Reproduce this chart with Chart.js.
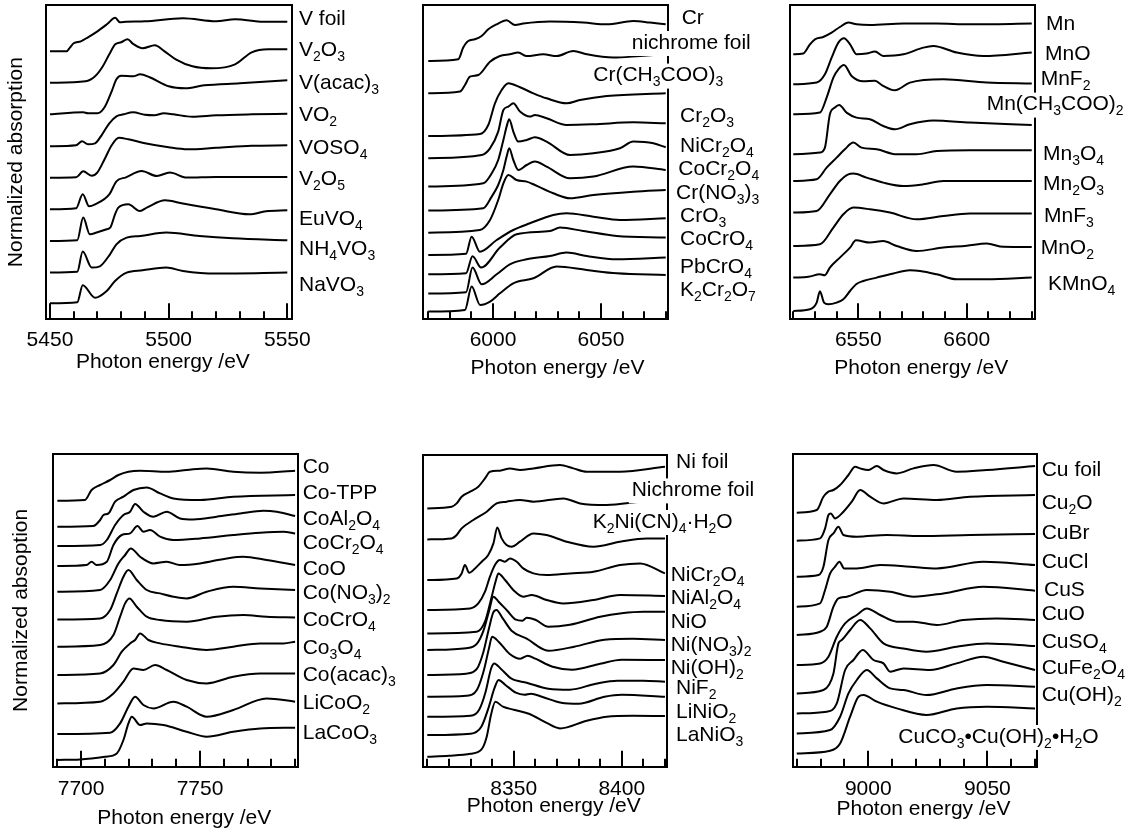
<!DOCTYPE html>
<html><head><meta charset="utf-8">
<script src="https://cdn.jsdelivr.net/npm/chart.js@4.4.1/dist/chart.umd.min.js"></script>
<style>
html,body{margin:0;padding:0;background:#fff;}
#wrap{position:relative;width:1135px;height:836px;overflow:hidden;background:#fff;}
#wrap canvas{position:absolute;left:0;top:0;}
</style></head><body>
<div id="wrap">
<canvas id="pV" width="1135" height="836"></canvas>
<canvas id="pCr" width="1135" height="836"></canvas>
<canvas id="pMn" width="1135" height="836"></canvas>
<canvas id="pCo" width="1135" height="836"></canvas>
<canvas id="pNi" width="1135" height="836"></canvas>
<canvas id="pCu" width="1135" height="836"></canvas>
</div>
<script>
// ---------------- DATA (energy /eV, stacked normalized absorption incl. offset) ----------------
// Panel 1 : V K-edge
const vNames = ['V foil','V_2O_3','V(acac)_3','VO_2','VOSO_4','V_2O_5','EuVO_4','NH_4VO_3','NaVO_3'];
const vSeries = [
 [[5450,268],[5457,268],[5458.5,272],[5460,276],[5463,278],[5466,282],[5470,288],[5474,295],[5477.5,301.5],[5479.5,297],[5482,297.5],[5490,298],[5506,301],[5520,298],[5528,300],[5540,297.5],[5550,297.5]],
 [[5450,236.5],[5465,238],[5469,243],[5472,252],[5475,265],[5477.5,275],[5480,277],[5482.7,280],[5485,275.5],[5489,271],[5494.2,274],[5498,268.5],[5503,260],[5510,253],[5518,251],[5528,255],[5535,267],[5542,270],[5550,270]],
 [[5450,205],[5464,207],[5466,206],[5470,206],[5473,212],[5476,228],[5478,240],[5480,243.5],[5485,243],[5488,245],[5492,242],[5500,233],[5507,231],[5515,234],[5530,236],[5550,239]],
 [[5450,173],[5461,174],[5463.5,178],[5466,175],[5469,176],[5472,185],[5475,196],[5478,203],[5481,205],[5485,207],[5490,204.5],[5494,204],[5498,206],[5502,205],[5510,202.5],[5520,204],[5535,205],[5550,205.5]],
 [[5450,141.5],[5461,142],[5464,148],[5467.5,143.5],[5470,147],[5473,160],[5476,174],[5479,181.5],[5483,180],[5490,176],[5500,172],[5508,170],[5520,171.5],[5535,173.5],[5550,174]],
 [[5450,110],[5461,111],[5463.8,125],[5466.5,113],[5469,115],[5475,125],[5478,138],[5482,142],[5488.6,148.3],[5495,143.3],[5500.5,146.7],[5507.6,141.7],[5520,142.3],[5550,142.3]],
 [[5450,78.3],[5461.5,79],[5464,101.7],[5466.8,85],[5470,87],[5473.9,90],[5475.5,92],[5477.4,105],[5478.8,111.7],[5483,115],[5487.9,108.3],[5491,112],[5498.5,119],[5506,115.7],[5520,110],[5534,105],[5541,108],[5550,109]],
 [[5450,46.7],[5461.5,47.5],[5463.8,67.7],[5467.6,51.7],[5471,53],[5475.3,65],[5478,75],[5482.3,81.7],[5488,83.3],[5499,86.7],[5513,83.3],[5527,81],[5550,79]],
 [[5450,16],[5461.5,17],[5463.8,34],[5469,21.5],[5473.9,28.3],[5477.4,38.3],[5482.3,46.7],[5489,49],[5499,51.7],[5506,48.3],[5520,45.7],[5550,46.7]]
];
const vLabelY = [302,270.7,238.3,205.7,173.3,141.7,102.3,71.7,36];
const vMinorTicks = [5450,5460,5470,5480,5490,5500,5510,5520,5530,5540,5550];
const vMajorTicks = [5450,5500,5550];

// Panel 2 : Cr K-edge
const crNames = ['Cr','nichrome foil','Cr(CH_3COO)_3','Cr_2O_3','NiCr_2O_4','CoCr_2O_4','Cr(NO_3)_3','CrO_3','CoCrO_4','PbCrO_4','K_2Cr_2O_7'];
const crSeries = [
 [[5970,258.3],[5983.9,260],[5986.2,271.7],[5988.5,278.3],[5991.6,280],[5994.7,283.3],[5997.8,290],[6001.7,295],[6006.3,299],[6010.2,294.3],[6014,295.7],[6026.4,297.7],[6041.8,296.7],[6052.7,295],[6065,298.3],[6072.7,296.7],[6080,295]],
 [[5970,226],[5984.7,227.7],[5987,234.3],[5989.3,242.6],[5993.2,244.3],[5998.6,257.6],[6003.2,263.3],[6007.8,265],[6011.7,266.7],[6015.6,263.3],[6023.3,265],[6029.5,263.3],[6037.2,268.3],[6043.4,265],[6055.7,261.7],[6068.1,263.3],[6080,265]],
 [[5970,183.3],[5994,185.3],[5997.8,194.3],[6000.9,216],[6004,229.3],[6007.1,236],[6012.5,232],[6018.7,226],[6024.8,221],[6034.1,216],[6040.3,219.3],[6052.7,223.3],[6080,226]],
 [[5970,161],[5994.7,164.3],[5998.6,171],[6002.4,187.7],[6004.8,209.3],[6007.1,212.7],[6009.4,216],[6012.5,207.7],[6017.1,202.7],[6019.4,204.3],[6024.8,201],[6034.1,194.3],[6046.5,195],[6065,197],[6080,196]],
 [[5970,132.7],[5995.5,136],[5999.4,146],[6002.4,159.3],[6004.8,179.3],[6006.3,192.7],[6007.5,200],[6009.4,187.7],[6011.7,177.7],[6015.6,179.3],[6019.4,182],[6024.8,177.7],[6035.7,164.3],[6046.5,166],[6058.8,171],[6065,177.7],[6074.3,176],[6080,172]],
 [[5970,108.7],[5995.5,111],[5999.4,122.7],[6002.4,134.3],[6004.8,149.3],[6006.3,162.7],[6007.5,171],[6009.4,159.3],[6011.7,149.3],[6015.6,154.3],[6019.4,157.7],[6024.8,152.7],[6035.7,141],[6046.5,142.7],[6065,152.7],[6080,149.3]],
 [[5970,86.6],[5993.9,89.3],[5998.6,99.3],[6002.4,119.3],[6004.8,136],[6007.1,144.3],[6010.9,139.3],[6015.6,137.7],[6019.4,134.3],[6027.9,126],[6035.7,121],[6046.5,124.3],[6065,127.6],[6080,129.3]],
 [[5970,64.3],[5987.5,65.5],[5990.1,82.6],[5993.9,67.6],[6001.7,79.3],[6009.4,89.3],[6017.1,96],[6027.9,104.3],[6034.1,106],[6046.5,102.6],[6058.8,99.3],[6080,101]],
 [[5970,45],[5987.5,46],[5990.5,63],[5994.5,51.7],[6003.2,71.7],[6010.9,85],[6026.4,88.3],[6031,91.7],[6041.8,88.3],[6057.3,83.3],[6080,81.7]],
 [[5970,25.7],[5987.5,27],[5990.5,51.7],[5994.7,35],[6001.7,45],[6007.8,55],[6015.6,60],[6026.4,63.3],[6034.1,66.7],[6043.4,63.3],[6057.3,60],[6080,61.7]],
 [[5970,7.7],[5987,9.3],[5990.1,32.7],[5994,14.3],[5998.6,17.7],[6003.2,26],[6009.4,36],[6018.7,41],[6029.5,52.7],[6043.4,49.3],[6057.3,46],[6080,44.3]]
];
const crLabelY = [303.3,278.3,245.7,205,175,151.7,128.3,105,81.7,54,31];
const crMinorTicks = [5970,5980,5990,6000,6010,6020,6030,6040,6050,6060,6070,6080];
const crMajorTicks = [6000,6050];

// Panel 3 : Mn K-edge
const mnNames = ['Mn','MnO','MnF_2','Mn(CH_3COO)_2','Mn_3O_4','Mn_2O_3','MnF_3','MnO_2','KMnO_4'];
const mnSeries = [
 [[6520,265],[6524.6,265.7],[6527.7,275],[6530,280],[6533.8,282.3],[6537.7,286.7],[6541.5,292.3],[6545.4,296.7],[6549.2,295],[6555.4,294.3],[6570.8,295.7],[6586,295.7],[6601.5,295],[6630,295.7]],
 [[6520,235],[6530.8,236.7],[6534.6,245],[6537.7,261.7],[6540.8,276.7],[6543.4,281],[6546.2,275],[6549.2,265],[6553.8,265.7],[6557.7,267.7],[6561.5,263.3],[6570.8,265],[6580,271.7],[6584.6,273.3],[6595.4,266.7],[6607.7,263.3],[6630,266.7]],
 [[6520,205],[6532.3,206.7],[6535.4,221.7],[6538.5,241.7],[6540.8,250],[6543.4,254.3],[6546.9,243.3],[6552.3,238],[6557.7,238.5],[6561,234],[6566.9,229],[6573.8,236.7],[6589.2,240],[6609.2,236.7],[6630,235.7]],
 [[6520,165],[6532.3,166.7],[6534.6,171.7],[6536.9,205],[6539.2,211.7],[6541.2,214.3],[6544.6,206.7],[6549.2,201.7],[6555.4,200],[6561.5,193.3],[6566.9,190],[6573.8,195],[6584.6,198.7],[6601.5,196.7],[6630,194.3]],
 [[6520,138.3],[6530.8,140],[6535.4,151.7],[6540,161.7],[6543.8,170],[6547.7,176.7],[6551.5,171.7],[6558.5,170],[6567.7,165],[6576.9,165],[6586.2,168.3],[6601.5,169],[6630,169]],
 [[6520,106.7],[6530.8,108.3],[6536.9,125],[6541.5,138.3],[6545.4,145],[6547.7,145.7],[6553.8,141.7],[6561.5,136.7],[6570.8,133.3],[6580,135],[6589.2,138.3],[6601.5,138.3],[6630,138.3]],
 [[6520,73.3],[6532.3,75],[6538.5,91.7],[6543.1,105],[6547.7,111.7],[6555.4,110],[6564.6,106.7],[6576.9,100],[6589.2,103.3],[6601.5,105.7],[6630,105.7]],
 [[6520,41.7],[6527,42.5],[6532.3,45],[6534.5,44],[6536.9,51.7],[6541.5,61.7],[6546.2,71.7],[6548.9,79],[6555.4,76.7],[6561.5,78.3],[6567.7,73.3],[6576.9,68.3],[6589.2,71.7],[6600,73.5],[6609.2,75.7],[6616.9,72.5],[6630,72.3]],
 [[6520,8.3],[6527.7,10],[6530.8,16.7],[6532.3,28],[6534.2,16.7],[6536.2,15],[6540,16.7],[6543.1,20],[6546.2,28.3],[6549,35],[6552.3,38.3],[6558.5,41.7],[6564.6,45],[6573.8,49],[6578.5,48.3],[6586.2,45],[6595.4,40],[6609.2,40],[6630,41.7]]
];
const mnLabelY = [296.7,266.7,241.7,216.7,166.7,136.7,105,73.3,36.7];
const mnMinorTicks = [6520,6530,6540,6550,6560,6570,6580,6590,6600,6610,6620,6630];
const mnMajorTicks = [6550,6600];

// Panel 4 : Co K-edge
const coNames = ['Co','Co-TPP','CoAl_2O_4','CoCr_2O_4','CoO','Co(NO_3)_2','CoCrO_4','Co_3O_4','Co(acac)_3','LiCoO_2','LaCoO_3'];
const coSeries = [
 [[7690,266],[7701.6,266.7],[7704.4,276.7],[7708,281.7],[7712.2,286.7],[7715.7,291.7],[7719.9,295],[7724.8,296],[7736,295],[7744.4,296.7],[7752.8,298.3],[7764,295],[7775.3,294],[7790,296]],
 [[7690,240],[7705.1,240.7],[7708,246.7],[7709.4,251.7],[7711.5,253.3],[7714.3,265],[7717.8,270],[7722,276.7],[7727.6,279.3],[7733.2,273.3],[7738.8,268.3],[7750,266.7],[7764,270],[7790,271.7]],
 [[7690,220.7],[7708,221.7],[7710.8,226.7],[7714.3,241.7],[7717.8,251.7],[7720.6,255],[7722.7,262.7],[7726.2,255],[7730.4,250],[7736,255],[7741.6,248.3],[7747.2,247.3],[7757,250],[7766.9,253.3],[7776.7,256],[7782.3,255],[7790,250.7]],
 [[7690,200.7],[7702.3,201.7],[7704.4,205],[7706.5,201.7],[7710.8,205],[7713.6,221.7],[7717.1,231.7],[7720.6,233.3],[7723.7,240.7],[7726.2,235],[7729,236.7],[7733.2,230],[7738.8,226.7],[7750,228.3],[7764,231.7],[7775.3,234],[7785.1,235],[7790,233.3]],
 [[7690,175],[7708,176.7],[7712.2,186.7],[7715.7,203.3],[7718.5,211.7],[7720.9,218.3],[7724.8,210],[7730.4,203.3],[7736,205],[7741.6,201.7],[7750,203.3],[7761.2,208.3],[7768.2,210],[7778,206.7],[7790,201.7]],
 [[7690,147.3],[7708,148.3],[7712.2,156.7],[7715,173.3],[7717.8,190],[7719.9,196.7],[7723.4,186.7],[7727.6,176.7],[7733.2,173.3],[7738.8,170],[7744.4,168.3],[7752.8,175],[7764,180],[7775.3,178.3],[7790,176.7]],
 [[7690,120],[7708,121.7],[7713.6,131.7],[7716.4,150],[7718.5,163.3],[7720.3,168.3],[7723.4,160],[7727.6,150],[7733.2,146.7],[7744.4,145],[7757,150],[7768.2,151.7],[7778,150],[7790,149.3]],
 [[7690,91.7],[7708,93.3],[7713.6,101.7],[7717.1,115],[7720.6,123.3],[7722.7,126.7],[7724.8,133.3],[7728.3,126.7],[7733.2,123.3],[7741.6,120],[7752.8,116.7],[7764,120],[7775.3,123.3],[7785.1,123.3],[7790,125]],
 [[7690,63.3],[7708,65],[7713.6,73.3],[7717.8,85],[7722,98.3],[7726.2,96.7],[7731.1,101.7],[7736,96.7],[7744.4,86.7],[7752.8,83.3],[7764,90],[7775.3,93.3],[7790,93.3]],
 [[7690,32.7],[7712.2,34],[7716.4,43.3],[7719.9,60],[7722.7,70],[7726.2,61.7],[7730.4,58.3],[7738.8,65],[7744.4,60],[7752.8,50],[7764,56.7],[7778,68.3],[7790,65]],
 [[7690,6.7],[7699.5,7.3],[7710,10],[7715,13.3],[7717.8,26.7],[7719.9,43.3],[7721.3,50],[7724.8,41.7],[7727.6,43.3],[7734.6,41.7],[7744.4,35],[7752.8,30],[7764,35],[7775.3,38.3],[7790,39]]
];
const coLabelY = [301.7,275,249.3,225,199.3,175,148.3,120,93.3,65,35];
const coMinorTicks = [7690,7700,7710,7720,7730,7740,7750,7760,7770,7780,7790];
const coMajorTicks = [7700,7750];

// Panel 5 : Ni K-edge
const niNames = ['Ni foil','Nichrome foil','K_2Ni(CN)_4·H_2O','NiCr_2O_4','NiAl_2O_4','NiO','Ni(NO_3)_2','Ni(OH)_2','NiF_2','LiNiO_2','LaNiO_3'];
const niSeries = [
 [[8310,258.3],[8321.3,260],[8323.6,263.3],[8325.9,270],[8329.8,275],[8333.6,280],[8336.7,288.3],[8339,295],[8343.6,296],[8348.3,298.3],[8352.9,296.7],[8359.1,298.3],[8371.4,301.7],[8377.6,298.3],[8383.8,295],[8399.2,295],[8420,300]],
 [[8310,227.3],[8321.3,228.3],[8323.6,231.7],[8325.9,238.3],[8331.3,246.7],[8337.5,255],[8342.1,263.3],[8346.7,265],[8352.9,266.7],[8359.1,265],[8373,268.3],[8380.7,263.3],[8393,261.7],[8408.5,265],[8420,267.3]],
 [[8310,186.7],[8323.6,188.3],[8325.9,193.3],[8327.4,201.7],[8329.4,194],[8332.1,198.3],[8335.2,205],[8338.2,211.7],[8340.6,223.3],[8342.4,239.3],[8344.4,228.3],[8346.7,221.7],[8349,220],[8352.9,225],[8359.1,233.3],[8365.2,231.7],[8374.5,225],[8386.9,220],[8399.2,225],[8411.5,228.3],[8420,228.3]],
 [[8310,156.7],[8329.8,158.3],[8333.6,163.3],[8336.7,175],[8339,190],[8341.3,201.7],[8343.6,206.7],[8345.9,205],[8348.3,208.3],[8351.4,205],[8354.4,198.3],[8359.1,193.3],[8365.2,191.7],[8376,193.3],[8386.9,195],[8399.2,201.7],[8408.5,203.3],[8420,193.3]],
 [[8310,133.3],[8332.8,135],[8336.7,145],[8339.8,170],[8341.8,186.7],[8342.9,193.3],[8346,186.7],[8349.8,176.7],[8354.4,170],[8358.3,171.7],[8365.2,166.7],[8372.9,163.3],[8386.9,166.7],[8399.2,171.7],[8420,170.7]],
 [[8310,116.7],[8328,118.5],[8333,123],[8336,136],[8338.5,155],[8340.6,170],[8343,165],[8347,156],[8351,147],[8354,146],[8356,149],[8360,147],[8366,140],[8376,142],[8390,150],[8400,153.5],[8410,155],[8420,155]],
 [[8310,91.7],[8328,93],[8333,98],[8336,115],[8338.5,138],[8340.5,154],[8342,156.7],[8345,148],[8349,136],[8356,128],[8366,116],[8378,120],[8392,127],[8405,128],[8420,126.7]],
 [[8310,70],[8328,71],[8333,77],[8336,95],[8338.5,118],[8340,130],[8343,125],[8348,113],[8353,108],[8356.5,111],[8360,108],[8368,100],[8377,97],[8390,103],[8400,107],[8420,106.7]],
 [[8310,50],[8330,51],[8334,57],[8337,75],[8339.5,98],[8341,103.3],[8344,98],[8349,88],[8356,84],[8366,78],[8376,77],[8388,83],[8398,86],[8410,86],[8420,85]],
 [[8310,31.7],[8330,33],[8335,40],[8338.5,60],[8341,78],[8343,86.7],[8346,82],[8351,74],[8355,72],[8358,73],[8363,70],[8372,64],[8380,63],[8392,70],[8400,72],[8420,70]],
 [[8310,10],[8320,11],[8330,13],[8335,17],[8337.5,30],[8339.5,52],[8341.5,65],[8345,60],[8350,57],[8357,53],[8365,44],[8371.4,38.3],[8383.8,46],[8393,50],[8405,51],[8420,50.7]]
];
const niLabelY = [306.7,278.3,246.7,193.3,170,146.7,123.3,100,80,56.7,33.3];
const niMinorTicks = [8310,8320,8330,8340,8350,8360,8370,8380,8390,8400,8410,8420];
const niMajorTicks = [8350,8400];

// Panel 6 : Cu K-edge
const cuNames = ['Cu foil','Cu_2O','CuBr','CuCl','CuS','CuO','CuSO_4','CuFe_2O_4','Cu(OH)_2','CuCO_3•Cu(OH)_2•H_2O'];
const cuSeries = [
 [[8970,254],[8978.4,256.7],[8981.2,270],[8983.3,275],[8985.4,276.7],[8988.2,281.7],[8991.7,291.7],[8994.5,300],[8996.6,298.3],[9000.1,296.7],[9003.6,300.7],[9006.4,296.7],[9012,293.3],[9019,298.3],[9027.4,301.7],[9037.1,295],[9049.7,296.7],[9070,300.7]],
 [[8970,226],[8979.8,228.3],[8981.9,238.3],[8983.3,251.7],[8984.3,253.3],[8986.1,248.3],[8989.6,255],[8993.1,265],[8996.6,276.7],[9000.8,270],[9006.4,263.3],[9014.8,268.3],[9028.7,266.7],[9042.7,270],[9070,271.7]],
 [[8970,190],[8979.1,191.7],[8981.2,200],[8983.3,226.7],[8985.4,233.3],[8987.5,240],[8989.6,231.7],[8995.2,230],[9007.8,231.7],[9021.7,230.7],[9042.7,231.7],[9070,232.7]],
 [[8970,160],[8979.8,163.3],[8981.9,176.7],[8984,193.3],[8986.1,200],[8987.9,205],[8989.9,198.3],[8995.2,198.3],[9005,201.7],[9017.6,200],[9028.7,198.3],[9048.3,205],[9070,201.7]],
 [[8970,131.7],[8979.8,135],[8982.6,140],[8985.4,160],[8987.5,168.3],[8991,170],[8999.4,176.7],[9009.2,175],[9019,170],[9031.5,173.3],[9048.3,180],[9070,176]],
 [[8970,101.7],[8979.8,103.3],[8983.3,110],[8986.8,130],[8990.3,143.3],[8995.2,151.7],[8999.4,158.3],[9005,151.7],[9012,145],[9019,145],[9028.7,141.7],[9039.9,146.7],[9053.9,148.3],[9070,146.7]],
 [[8970,73.3],[8981.2,76.7],[8985.4,93.3],[8987.5,123.3],[8988.9,126.7],[8992.4,136.7],[8996.6,146.7],[9000.8,138.3],[9006.4,123.3],[9014.8,118.3],[9024.5,115],[9037.1,120],[9049.7,123.3],[9070,120.7]],
 [[8970,53.3],[8982.6,55],[8986.8,63.3],[8990.3,96.7],[8993.8,106.7],[8997.7,116.7],[9002.2,106.7],[9006.4,103.3],[9009.2,95],[9014.8,98.3],[9025.9,96.7],[9037.1,103.3],[9048.3,110],[9056.7,105],[9070,96.7]],
 [[8970,33.3],[8984,36.7],[8988.2,50],[8991.7,73.3],[8995.2,86.7],[8999.4,96.7],[9003.6,88.3],[9009.2,78.3],[9014.8,76.7],[9024.5,71.7],[9037.1,78.3],[9049.7,81.7],[9070,80]],
 [[8970,13.3],[8984,16],[8988.2,23.3],[8992.4,50],[8995.9,70],[8998,71.7],[9003.6,65],[9012,58.3],[9024.5,51.7],[9037.1,58.3],[9049.7,60],[9070,58.3]]
];
const cuLabelY = [298.3,265,235,206.7,178.3,154,126.7,100,73.3,31.7];
const cuMinorTicks = [8970,8980,8990,9000,9010,9020,9030,9040,9050,9060,9070];
const cuMajorTicks = [9000,9050];

// ---------------- LAYOUT (pixel positions, styles) ----------------
const FONT_FAMILY = "'Liberation Sans', Arial, Helvetica, sans-serif";
const MAIN_FONT = "21px " + FONT_FAMILY;
const SUB_FONT = "14px " + FONT_FAMILY;
const X_TITLE = 'Photon energy /eV';

const layouts = {
 V:  {xMin:5448.2, xMax:5551.85, yMax:314.3, area:{l:45.7,t:5,r:291.7,b:319.3}, yW:45.7, yTitle:'Normalized absorption', yTitlePad:3.4,
      xH:62, tickPad:24.1, xTitle:X_TITLE+'  ', xTitlePad:6.7,
      labelX:[299,299,299,299,299,299,299,299,299], labelBg:[]},
 Cr: {xMin:5967.7, xMax:6081.2, yMax:314.3, area:{l:423.3,t:5,r:668.3,b:319.3}, yW:0, yTitle:'', yTitlePad:0,
      xH:62, tickPad:24.1, xTitle:'    '+X_TITLE, xTitlePad:0.7,
      labelX:[681.7,631.7,593.3,680,680,678.3,676,680,680,680,680], labelBg:[1,2]},
 Mn: {xMin:6518.5, xMax:6631.5, yMax:314.3, area:{l:790,t:5,r:1035,b:319.3}, yW:0, yTitle:'', yTitlePad:0,
      xH:62, tickPad:24.1, xTitle:'   '+X_TITLE, xTitlePad:0.7,
      labelX:[1046,1045,1040.7,986.7,1043,1043,1044,1040.7,1048], labelBg:[3]},
 Co: {xMin:7688.3, xMax:7791.1, yMax:312.7, area:{l:53.3,t:454,r:297.7,b:766.7}, yW:53.3, yTitle:'Normalized absoption', yTitlePad:8.7,
      xH:66, tickPad:25.7, xTitle:'   '+X_TITLE, xTitlePad:2.1,
      labelX:[302.7,302.7,302.7,302.7,302.7,302.7,302.7,302.7,302.7,302.7,302.7], labelBg:[]},
 Ni: {xMin:8308.15, xMax:8420.8, yMax:311.7, area:{l:423.3,t:455,r:666.7,b:766.7}, yW:0, yTitle:'', yTitlePad:0,
      xH:66, tickPad:25.7, xTitle:'   '+X_TITLE, xTitlePad:14.1,
      labelX:[676,631.7,592.7,670.7,670.7,670.7,670.7,670.7,676,676,676], labelBg:[1,2]},
 Cu: {xMin:8968.3, xMax:9070.7, yMax:312.7, area:{l:792.7,t:454,r:1036.7,b:766.7}, yW:0, yTitle:'', yTitlePad:0,
      xH:66, tickPad:25.7, xTitle:'   '+X_TITLE, xTitlePad:11.1,
      labelX:[1041.7,1041.7,1041.7,1041.7,1044,1041.7,1041.7,1041.7,1041.7,898.3], labelBg:[9]}
};

// ---------------- RENDERING ----------------
Chart.defaults.font.family = FONT_FAMILY;
Chart.defaults.color = '#000';

function parseLabel(s){
  const out=[]; let cur='';
  for(let i=0;i<s.length;i++){
    if(s[i]==='_' && i+1<s.length){
      if(cur){out.push({t:cur,sub:false}); cur='';}
      out.push({t:s[i+1],sub:true}); i++;
    } else cur+=s[i];
  }
  if(cur) out.push({t:cur,sub:false});
  return out;
}

function buildPanel(canvasId, names, series, labelY, minorTicks, majorTicks, L){
  const datasets = series.map((pts,i)=>({
    label:names[i],
    data:pts.map(p=>({x:p[0],y:p[1]})),
    borderColor:'#000', borderWidth:2, pointRadius:0, pointHoverRadius:0,
    fill:false, cubicInterpolationMode:'monotone', xAxisID:'x', yAxisID:'y'
  }));
  const labelPlugin = {
    id:'seriesLabels',
    afterDraw(chart){
      const ctx = chart.ctx, ys = chart.scales.y;
      ctx.save();
      ctx.textAlign='left'; ctx.textBaseline='alphabetic';
      names.forEach((nm,i)=>{
        const yc = ys.getPixelForValue(labelY[i]);
        const x0 = L.labelX[i];
        const parts = parseLabel(nm);
        let w=0;
        parts.forEach(p=>{ctx.font=p.sub?SUB_FONT:MAIN_FONT; p.w=ctx.measureText(p.t).width; w+=p.w;});
        const base = yc + 7.5;
        if(L.labelBg.indexOf(i)>=0){ ctx.fillStyle='#fff'; ctx.fillRect(x0-3, yc-10, w+6, 25); }
        ctx.fillStyle='#000';
        let x=x0;
        parts.forEach(p=>{ctx.font=p.sub?SUB_FONT:MAIN_FONT; ctx.fillText(p.t, x, p.sub?base+5:base); x+=p.w;});
      });
      ctx.restore();
    }
  };
  const font21 = {size:21, family:FONT_FAMILY, weight:'normal'};
  const a = L.area;
  return new Chart(document.getElementById(canvasId), {
    type:'line',
    data:{datasets},
    options:{
      responsive:false, animation:false, devicePixelRatio:1, events:[],
      layout:{padding:{left:a.l-L.yW, top:a.t, right:1135-a.r, bottom:836-a.b-L.xH}},
      plugins:{legend:{display:false}, tooltip:{enabled:false}, title:{display:false}},
      scales:{
        x:{type:'linear', position:'bottom', weight:0, min:L.xMin, max:L.xMax,
           afterBuildTicks:s=>{s.ticks=minorTicks.map(v=>({value:v}));},
           afterFit:s=>{s.height=0;},
           ticks:{display:false},
           grid:{display:true, drawOnChartArea:false, drawTicks:true, tickLength:-8, tickWidth:2, tickColor:'#000', lineWidth:2},
           border:{display:false}},
        xMaj:{type:'linear', position:'bottom', weight:1, min:L.xMin, max:L.xMax,
           afterBuildTicks:s=>{s.ticks=majorTicks.map(v=>({value:v}));},
           afterFit:s=>{s.height=L.xH;},
           ticks:{display:true, autoSkip:false, maxRotation:0, minRotation:0, padding:L.tickPad, color:'#000', font:font21, callback:v=>String(v)},
           grid:{display:true, drawOnChartArea:false, drawTicks:true, tickLength:-16, tickWidth:2, tickColor:'#000', lineWidth:2},
           border:{display:true, width:2, color:'#000'},
           title:{display:true, text:L.xTitle, color:'#000', font:font21, padding:{top:0,bottom:L.xTitlePad}}},
        xTop:{type:'linear', position:'top', min:L.xMin, max:L.xMax,
           afterFit:s=>{s.height=0;}, ticks:{display:false}, grid:{display:false},
           border:{display:true, width:2, color:'#000'}},
        y:{type:'linear', position:'left', min:0, max:L.yMax,
           afterFit:s=>{s.width=L.yW;}, ticks:{display:false}, grid:{display:false},
           border:{display:true, width:2, color:'#000'},
           title:{display:!!L.yTitle, text:L.yTitle, color:'#000', font:font21, padding:{top:L.yTitlePad,bottom:0}}},
        yRight:{type:'linear', position:'right', min:0, max:L.yMax,
           afterFit:s=>{s.width=0;}, ticks:{display:false}, grid:{display:false},
           border:{display:true, width:2, color:'#000'}}
      }
    },
    plugins:[labelPlugin]
  });
}

buildPanel('pV', vNames, vSeries, vLabelY, vMinorTicks, vMajorTicks, layouts.V);
buildPanel('pCr', crNames, crSeries, crLabelY, crMinorTicks, crMajorTicks, layouts.Cr);
buildPanel('pMn', mnNames, mnSeries, mnLabelY, mnMinorTicks, mnMajorTicks, layouts.Mn);
buildPanel('pCo', coNames, coSeries, coLabelY, coMinorTicks, coMajorTicks, layouts.Co);
buildPanel('pNi', niNames, niSeries, niLabelY, niMinorTicks, niMajorTicks, layouts.Ni);
buildPanel('pCu', cuNames, cuSeries, cuLabelY, cuMinorTicks, cuMajorTicks, layouts.Cu);
</script>
</body></html>
